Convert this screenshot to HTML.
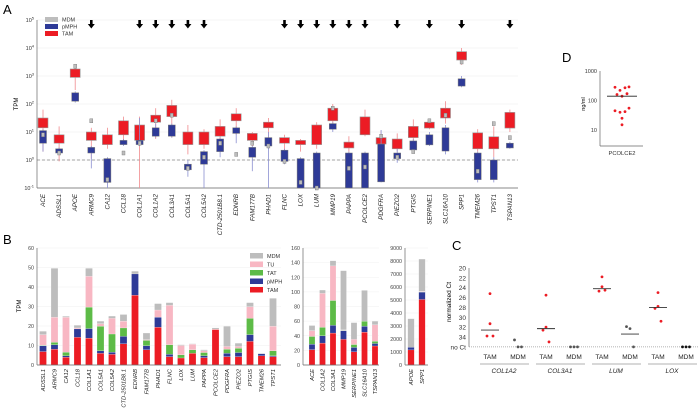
<!DOCTYPE html>
<html><head><meta charset="utf-8"><style>
html,body{margin:0;padding:0;background:#fff;width:700px;height:413px;overflow:hidden}
svg{display:block;font-family:"Liberation Sans",Arial,sans-serif}
</style></head><body>
<svg id="fig" width="700" height="413" viewBox="0 0 700 413" xmlns="http://www.w3.org/2000/svg">
<text x="3" y="14" font-size="13">A</text>
<text x="3" y="244" font-size="13">B</text>
<text x="452" y="250" font-size="13">C</text>
<text x="562" y="62" font-size="13">D</text>
<g id="gA"></g>
<g id="gB"></g>
<g id="gC"></g>
<g id="gD"></g>
</svg>
<script>
// ---------- Panel A data (log10 TPM) ----------
const genesA=["ACE","ADSSL1","APOE","ARMC9","CA12","CCL18","COL1A1","COL1A2","COL3A1","COL5A1","COL5A2","CTD-2501B8.1","EDNRB","FAM177B","PHAD1","FLNC","LOX","LUM","MMP19","PAPPA","PCOLCE2","PDGFRA","PIEZO2","PTGIS","SERPINE1","SLC16A10","SPP1","TMEM26","TPST1","TSPAN13"];
const tamQ1=[1.15,0.6,2.95,0.7,0.55,0.9,0.7,1.35,1.55,0.55,0.55,0.85,1.4,0.7,1.15,0.6,0.55,0.55,1.4,0.43,0.9,0.57,0.4,0.8,1.14,1.5,3.57,0.4,0.4,1.14];
const tamQ3=[1.5,0.9,3.25,1.0,0.9,1.4,1.25,1.6,1.95,1.0,1.0,1.2,1.65,0.95,1.35,0.8,0.7,1.25,1.85,0.64,1.54,0.8,0.75,1.2,1.35,1.85,3.87,0.97,0.83,1.7];
const tamLo=[0.3,-0.05,2.5,0.05,0.4,0.7,-1,0.75,0.8,0.2,0.4,0.3,0.9,0.5,0.4,0.1,0.3,0.4,1.1,0.3,0.85,0.5,0.3,0.6,1.1,1.3,3.4,0.3,0.1,1.0];
const tamHi=[1.8,1.2,3.4,1.15,1.15,1.55,1.55,1.85,2.15,1.25,1.1,1.45,1.85,1.0,1.5,0.9,0.75,1.35,2.0,0.85,1.8,1.05,0.95,1.45,1.45,2.1,4.0,1.1,1.2,1.8];
const pmQ1=[0.6,0.25,2.1,0.25,-0.8,0.55,0.55,0.85,0.85,-0.35,-0.15,0.3,0.95,0.1,0.5,-0.05,-1,-1,1.1,-1,-1,-0.78,0.05,0.36,0.54,0.32,2.64,-0.7,-0.7,0.43];
const pmQ3=[1.05,0.4,2.4,0.45,0.05,0.7,0.7,1.15,1.25,-0.15,0.3,0.75,1.15,0.45,0.8,0.35,0.05,0.25,1.3,0.25,0.25,0.57,0.25,0.68,0.9,1.15,2.9,0.25,0,0.6];
const pmLo=[0.3,0.2,2.05,-0.3,-1,0.5,0.5,0.8,0.8,-0.6,-1,0.1,0.6,-0.4,-1,-0.15,-1,-1,1.0,-1,-1,-0.8,-0.1,0.3,0.5,0.2,2.6,-0.8,-0.8,0.4];
const pmHi=[1.1,0.45,2.45,0.5,0.1,0.75,1.5,1.3,1.3,0,0.35,0.8,1.2,0.5,1.0,0.4,0.1,0.3,1.35,0.3,0.3,1.07,0.4,0.75,1.0,1.25,3.0,0.3,0.1,0.65];
const mdmMed=[0.9,0.25,3.35,1.4,-0.7,0.25,0.6,1.4,1.6,-0.3,0.1,0.6,0.2,0.6,0.5,-0.05,-0.8,-1,1.85,-0.3,-0.25,0.85,0.1,0.3,1.4,1.6,3.5,-0.4,1.3,0.8];
const arrowGenes=["ARMC9","COL1A1","COL1A2","COL3A1","COL5A1","COL5A2","FLNC","LOX","LUM","MMP19","PAPPA","PCOLCE2","PIEZO2","SERPINE1","SPP1","TSPAN13"];
const decadesA=[-1,0,1,2,3,4,5];

// ---------- Panel B data (TPM) ----------
const genesB1=["ADSSL1","ARMC9","CA12","CCL18","COL1A1","COL5A1","COL5A2","CTD-2501B8.1","EDNRB","FAM177B","PHAD1","FLNC","LOX","LUM","PAPPA","PCOLCE2","PDGFRA","PIEZO2","PTGIS","TMEM26","TPST1"];
const b1TAM=[6.9,8.1,4,14.2,13.8,6,5.5,10.9,35.8,7.8,19.4,4.3,3.6,6,3.8,18.2,4.3,4.3,12.1,4.7,4.3];
const b1PM=[3,2.3,0.7,4.3,4.9,1.3,1.1,3.8,10.9,2.1,5.1,1.2,0,0,0.9,0,1.7,2.1,3.5,1.1,0.4];
const b1TAT=[0.3,1.2,1.9,0,11,12.6,9.3,4.3,0,2.7,0,4.9,1.6,1.8,1.7,0,2.1,2.2,8.3,0,2.6];
const b1TU=[5.4,12.9,17.9,0.5,15.8,1.3,8,3.5,0,0.4,3.7,20.2,4.8,2.9,0.9,0.2,1.4,0.9,6,0,12.6];
const b1MDM=[1.7,25.1,0.5,1.4,4.1,1.3,1.2,3.4,1.4,3.4,3.3,1.4,0.4,0.2,0.5,0.6,10.4,1.7,2.1,0.2,14.3];
const ticksB1=[0,10,20,30,40,50,60];
const genesB2=["ACE","COL1A2","COL3A1","MMP19","SERPINE1","SLC16A10","TSPAN13"];
const b2TAM=[21,30,43.7,35,18,45,26];
const b2PM=[7.5,10,10.5,12,6,8,3.4];
const b2TAT=[10.5,11.5,34,0.5,4,7,3.1];
const b2TU=[8,46.5,47.3,0.5,7,0,22.5];
const b2MDM=[7,4.5,7,81,23,42,5];
const ticksB2=[0,20,40,60,80,100,120,140,160];
const genesB3=["APOE","SPP1"];
const b3TAM=[1160,5040];
const b3PM=[210,570];
const b3TAT=[0,20];
const b3TU=[0,40];
const b3MDM=[2190,2480];
const ticksB3=[0,1000,2000,3000,4000,5000,6000,7000,8000,9000];

// ---------- Panel C data (normalized Ct; 36 = no Ct) ----------
const genesC=["COL1A2","COL3A1","LUM","LOX"];
const cTAM=[[25.2,31.3,33.8,33.8],[25.5,32,32.6,35],[21.8,23.8,24.7,24.5],[25,27.8,28.2,30.8]];
const cMDM=[[34.6,36,36],[36,36,36],[31.9,32.3,36],[36,36,36]];
const cTAMmed=[32.6,32.3,24.2,28];
const cMDMmed=[null,null,33.4,null];
const ticksC=[20,22,24,26,28,30,32,34];

// ---------- Panel D data (ng/ml) ----------
const dVals=[280,220,270,290,160,140,170,45,40,42,55,25,15];
const dMedian=140;
const ticksD=[10,100,1000];

const NS="http://www.w3.org/2000/svg";
function mk(parent,tag,attrs,txt){const e=document.createElementNS(NS,tag);for(const k in attrs)e.setAttribute(k,attrs[k]);if(txt!==undefined)e.textContent=txt;parent.appendChild(e);return e;}
const RED="#ec1c24",BLUE="#2e3a97",GRAY="#bdbdbd",PINK="#f8b7c3",GREEN="#5dbb47";

// ===== Panel A =====
const gA=document.getElementById('gA');
const yA=l=>160-28*l;
const xA=i=>43+16.1*i;
const AX0=37,AX1=518;
decadesA.forEach(d=>{
  const gl=mk(gA,'line',{x1:AX0,x2:AX1,y1:yA(d),y2:yA(d),stroke:"#eeeeee","stroke-width":0.6});
  
  
  const t=mk(gA,'text',{x:AX0-3,y:yA(d)+2,"font-size":5.5,"text-anchor":"end",fill:"#333"});
  
  
  const s1=mk(t,'tspan',{},"10");
  const s2=mk(t,'tspan',{dy:-2.5,"font-size":4},String(d));
});
{
const dl=mk(gA,'line',{x1:AX0,x2:AX1,y1:yA(0),y2:yA(0),stroke:"#888","stroke-width":0.8,"stroke-dasharray":"3,2"});


const ya=mk(gA,'line',{x1:AX0,x2:AX0,y1:yA(5),y2:yA(-1),stroke:"#666","stroke-width":0.7});


const xa=mk(gA,'line',{x1:AX0,x2:AX1,y1:yA(-1),y2:yA(-1),stroke:"#666","stroke-width":0.7});


const yt=mk(gA,'text',{x:0,y:0,"font-size":6,"text-anchor":"middle",transform:"translate(18,104) rotate(-90)"},"TPM");


}
genesA.forEach((g,i)=>{
  const x=xA(i);
  const tw=mk(gA,'line',{x1:x,x2:x,y1:yA(tamHi[i]),y2:yA(Math.max(tamLo[i],-1)),stroke:"#f08a8e","stroke-width":0.8});
  
  
  const tb=mk(gA,'rect',{x:x-5,y:yA(tamQ3[i]),width:10,height:yA(tamQ1[i])-yA(tamQ3[i]),fill:RED,stroke:"#999","stroke-width":0.6});
  
  
  const pw=mk(gA,'line',{x1:x,x2:x,y1:yA(pmHi[i]),y2:yA(Math.max(pmLo[i],-1)),stroke:"#8a8fd0","stroke-width":0.8});
  
  
  const pb=mk(gA,'rect',{x:x-3.5,y:yA(pmQ3[i]),width:7,height:Math.max(yA(pmQ1[i])-yA(pmQ3[i]),1),fill:BLUE,stroke:"#777","stroke-width":0.5});
  
  
  const mb=mk(gA,'rect',{x:x-1.5,y:yA(mdmMed[i])-2,width:3,height:4,fill:GRAY,stroke:"#777","stroke-width":0.4});
  
  
  const lb=mk(gA,'text',{x:0,y:0,"font-size":6.2,"font-style":"italic","text-anchor":"end",fill:"#222",transform:`translate(${x+2},194) rotate(-90)`},g);
  
  
  if(arrowGenes.includes(g)){
    const ar=mk(gA,'path',{d:`M${x-1.3},20 h2.6 v4 h2.2 l-3.5,4.5 l-3.5,-4.5 h2.2 z`,fill:"#000"});
    
    
  }
});
[["MDM",GRAY],["pMPH",BLUE],["TAM",RED]].forEach((l,k)=>{
  const r=mk(gA,'rect',{x:45,y:17+k*7,width:13,height:5,fill:l[1]});
  
  
  const t=mk(gA,'text',{x:62,y:21.5+k*7,"font-size":5.5,fill:"#333"},l[0]);
  
  
});

// ===== Panel B =====
const gB=document.getElementById('gB');
const YB0=365,YBTOP=248;
const cols=[RED,BLUE,GREEN,PINK,GRAY];
function stackPanel(genes,series,ticks,max,axX,xStart,step,axEnd,bw,name){
  const y=v=>YB0-v*(YB0-YBTOP)/max;
  ticks.forEach(t=>{
    const gl=mk(gB,'line',{x1:axX,x2:axEnd,y1:y(t),y2:y(t),stroke:"#f0f0f0","stroke-width":0.6});
    
    
    const tl=mk(gB,'text',{x:axX-3,y:y(t)+2,"font-size":5.3,"text-anchor":"end",fill:"#444"},String(t));
    
    
  });
  genes.forEach((g,i)=>{
    const x=xStart+step*i;
    let acc=0;
    series.forEach((s,k)=>{
      const v=s[i];
      if(v>0){
        const r=mk(gB,'rect',{x:x-bw/2,y:y(acc+v),width:bw,height:y(acc)-y(acc+v),fill:cols[k],stroke:"#fff","stroke-width":0.2});
        
        
      }
      acc+=v;
    });
    const lb=mk(gB,'text',{x:0,y:0,"font-size":5.8,"font-style":"italic","text-anchor":"end",fill:"#222",transform:`translate(${x+2},369) rotate(-90)`},g);
    
    
  });
  const ya=mk(gB,'line',{x1:axX,x2:axX,y1:YBTOP,y2:YB0,stroke:"#666","stroke-width":0.7});
  
  
  const xa=mk(gB,'line',{x1:axX,x2:axEnd,y1:YB0,y2:YB0,stroke:"#666","stroke-width":0.7});
  
  
}
stackPanel(genesB1,[b1TAM,b1PM,b1TAT,b1TU,b1MDM],ticksB1,60,37,43,11.5,281,7,'b-left');
stackPanel(genesB2,[b2TAM,b2PM,b2TAT,b2TU,b2MDM],ticksB2,160,303,312,10.5,379,6,'b-mid');
stackPanel(genesB3,[b3TAM,b3PM,b3TAT,b3TU,b3MDM],ticksB3,9000,405,411,11,428,6.5,'b-right');
{
const yt=mk(gB,'text',{x:0,y:0,"font-size":6,"text-anchor":"middle",transform:"translate(21,306) rotate(-90)"},"TPM");


}
[["MDM",GRAY],["TU",PINK],["TAT",GREEN],["pMPH",BLUE],["TAM",RED]].forEach((l,k)=>{
  const r=mk(gB,'rect',{x:250,y:253+k*8.5,width:13,height:5.5,fill:l[1]});
  
  
  const t=mk(gB,'text',{x:267,y:258+k*8.5,"font-size":5.5,fill:"#333"},l[0]);
  
  
});

// ===== Panel C =====
const gC=document.getElementById('gC');
const yC=v=>268+(v-20)*(337-268)/14;
const CX0=469,CX1=698;
ticksC.forEach(t=>{
  const tl=mk(gC,'text',{x:CX0-3,y:yC(t)+2.5,"font-size":6.5,"text-anchor":"end",fill:"#333"},String(t));
  
  
});
{
const nc=mk(gC,'text',{x:CX0-3,y:yC(36)+2.5,"font-size":6.5,"text-anchor":"end",fill:"#333"},"no Ct");


const ya=mk(gC,'line',{x1:CX0,x2:CX0,y1:yC(20),y2:yC(36),stroke:"#666","stroke-width":0.7});


const xa=mk(gC,'line',{x1:CX0,x2:CX1,y1:yC(36),y2:yC(36),stroke:"#999","stroke-width":0.8,"stroke-dasharray":"1,1"});


const yt=mk(gC,'text',{x:0,y:0,"font-size":6.5,"text-anchor":"middle",transform:"translate(451,302) rotate(-90)"},"normalized Ct");


}
genesC.forEach((g,i)=>{
  const xt=490+56*i,xm=518+56*i;
  cTAM[i].forEach((v,k)=>{
    const c=mk(gC,'circle',{cx:xt+(k===3?3:(k===2?-3:0)),cy:yC(v),r:1.4,fill:RED});
    
    
  });
  cMDM[i].forEach((v,k)=>{
    const c=mk(gC,'circle',{cx:xm+(k-1)*3.5,cy:yC(v),r:1.4,fill:i===3?"#111":"#555"});
    
    
  });
  const ml=mk(gC,'line',{x1:xt-9,x2:xt+9,y1:yC(cTAMmed[i]),y2:yC(cTAMmed[i]),stroke:"#333","stroke-width":0.9});
  
  
  if(cMDMmed[i]!==null){
    const mm=mk(gC,'line',{x1:xm-9,x2:xm+9,y1:yC(cMDMmed[i]),y2:yC(cMDMmed[i]),stroke:"#333","stroke-width":0.9});
    
    
  }
  const l1=mk(gC,'text',{x:xt,y:359,"font-size":6.5,"text-anchor":"middle",fill:"#222"},"TAM");
  
  
  const l2=mk(gC,'text',{x:xm,y:359,"font-size":6.5,"text-anchor":"middle",fill:"#222"},"MDM");
  
  
  const ul=mk(gC,'line',{x1:xt-10,x2:xm+11,y1:364,y2:364,stroke:"#999","stroke-width":0.7});
  
  
  const gl=mk(gC,'text',{x:(xt+xm)/2,y:373,"font-size":6.5,"font-style":"italic","text-anchor":"middle",fill:"#222"},g);
  
  
});

// ===== Panel D =====
const gD=document.getElementById('gD');
const yD=v=>130-(Math.log10(v)-1)*29.5;
const DX0=600,DX1=643;
ticksD.forEach(t=>{
  const tl=mk(gD,'text',{x:DX0-3,y:yD(t)+2,"font-size":5.5,"text-anchor":"end",fill:"#333"},String(t));
  
  
});
{
const ya=mk(gD,'line',{x1:DX0,x2:DX0,y1:yD(1000),y2:146,stroke:"#666","stroke-width":0.7});


const xa=mk(gD,'line',{x1:DX0,x2:DX1,y1:146,y2:146,stroke:"#666","stroke-width":0.7});


const yt=mk(gD,'text',{x:0,y:0,"font-size":5.5,"text-anchor":"middle",transform:"translate(585,104) rotate(-90)"},"ng/ml");


const xl=mk(gD,'text',{x:622,y:155,"font-size":5.8,"text-anchor":"middle",fill:"#333"},"PCOLCE2");


}
const dOff=[-7,-2,3,7,-5,0,5,-7,-2,3,7,0,0];
dVals.forEach((v,k)=>{
  const c=mk(gD,'circle',{cx:622+dOff[k],cy:yD(v),r:1.4,fill:RED});
  
  
});
{
const ml=mk(gD,'line',{x1:607,x2:637,y1:yD(dMedian),y2:yD(dMedian),stroke:"#222","stroke-width":0.8});


}
</script>
</body></html>
